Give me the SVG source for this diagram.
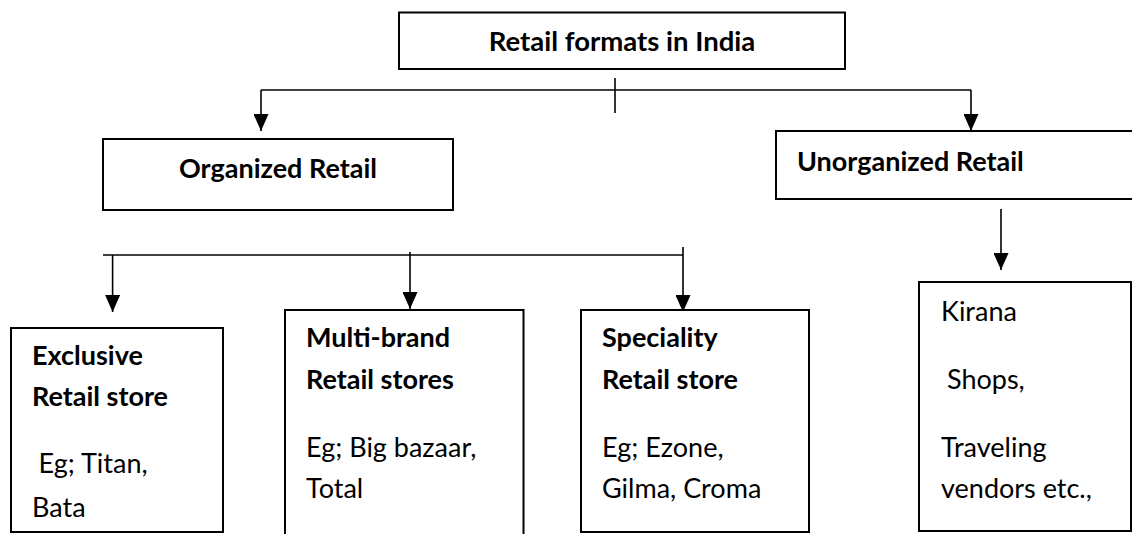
<svg xmlns="http://www.w3.org/2000/svg" width="1132" height="534" viewBox="0 0 1132 534">
<style>
.box{fill:#fff;stroke:#000;stroke-width:2}
.ln{fill:none;stroke:#000;stroke-width:1.6}
.arr{fill:none;stroke:#000;stroke-width:1.6;marker-end:url(#ah)}
text{font-family:Lato,"Liberation Sans",sans-serif;fill:#000}
.b{font-weight:bold;font-size:27px}
.t{font-size:27px}
</style>
<defs>
<marker id="ah" markerUnits="userSpaceOnUse" markerWidth="17" markerHeight="15" refX="17" refY="7.5" orient="auto">
<path d="M0,0 L17,7.5 L0,15 z" fill="#000"/>
</marker>
</defs>
<rect width="1132" height="534" fill="#fff"/>
<g id="connectors">
<line class="ln" x1="261" y1="90" x2="971" y2="90"/>
<line class="ln" x1="615" y1="78" x2="615" y2="113"/>
<line class="arr" x1="261" y1="90" x2="261" y2="131"/>
<line class="arr" x1="971" y1="90" x2="971" y2="131"/>
<line class="ln" x1="103" y1="255" x2="683" y2="255"/>
<line class="arr" x1="112.6" y1="255" x2="112.6" y2="312"/>
<line class="arr" x1="410" y1="252" x2="410" y2="309"/>
<line class="arr" x1="683" y1="247" x2="683" y2="312"/>
<line class="arr" x1="1001" y1="209" x2="1001" y2="270"/>
</g>
<g id="root">
<rect class="box" x="399" y="12.5" width="446" height="56.5"/>
<text class="b" x="622" y="51" text-anchor="middle" style="font-size:27.5px">Retail formats in India</text>
</g>
<g id="organized">
<rect class="box" x="103" y="139" width="350" height="71"/>
<text class="b" x="278" y="178" text-anchor="middle">Organized Retail</text>
</g>
<g id="unorganized">
<rect class="box" x="776" y="131" width="370" height="68"/>
<text class="b" x="797" y="171">Unorganized Retail</text>
</g>
<g id="exclusive">
<rect class="box" x="11" y="328" width="212" height="204"/>
<text class="b" x="32" y="365">Exclusive</text>
<text class="b" x="32" y="406">Retail store</text>
<text class="t" x="38.6" y="473">Eg; Titan,</text>
<text class="t" x="32" y="517">Bata</text>
</g>
<g id="multibrand">
<rect class="box" x="285" y="310" width="238.5" height="240"/>
<text class="b" x="306" y="347">Multi-brand</text>
<text class="b" x="306" y="389">Retail stores</text>
<text class="t" x="306" y="457">Eg; Big bazaar,</text>
<text class="t" x="306" y="498">Total</text>
</g>
<g id="speciality">
<rect class="box" x="581" y="310" width="228" height="222"/>
<text class="b" x="602" y="347">Speciality</text>
<text class="b" x="602" y="389">Retail store</text>
<text class="t" x="602" y="457">Eg; Ezone,</text>
<text class="t" x="602" y="498">Gilma, Croma</text>
</g>
<g id="unorganized-examples">
<rect class="box" x="919" y="282" width="212" height="249"/>
<text class="t" x="941" y="321">Kirana</text>
<text class="t" x="947" y="389">Shops,</text>
<text class="t" x="941" y="457">Traveling</text>
<text class="t" x="941" y="498">vendors etc.,</text>
</g>
</svg>
